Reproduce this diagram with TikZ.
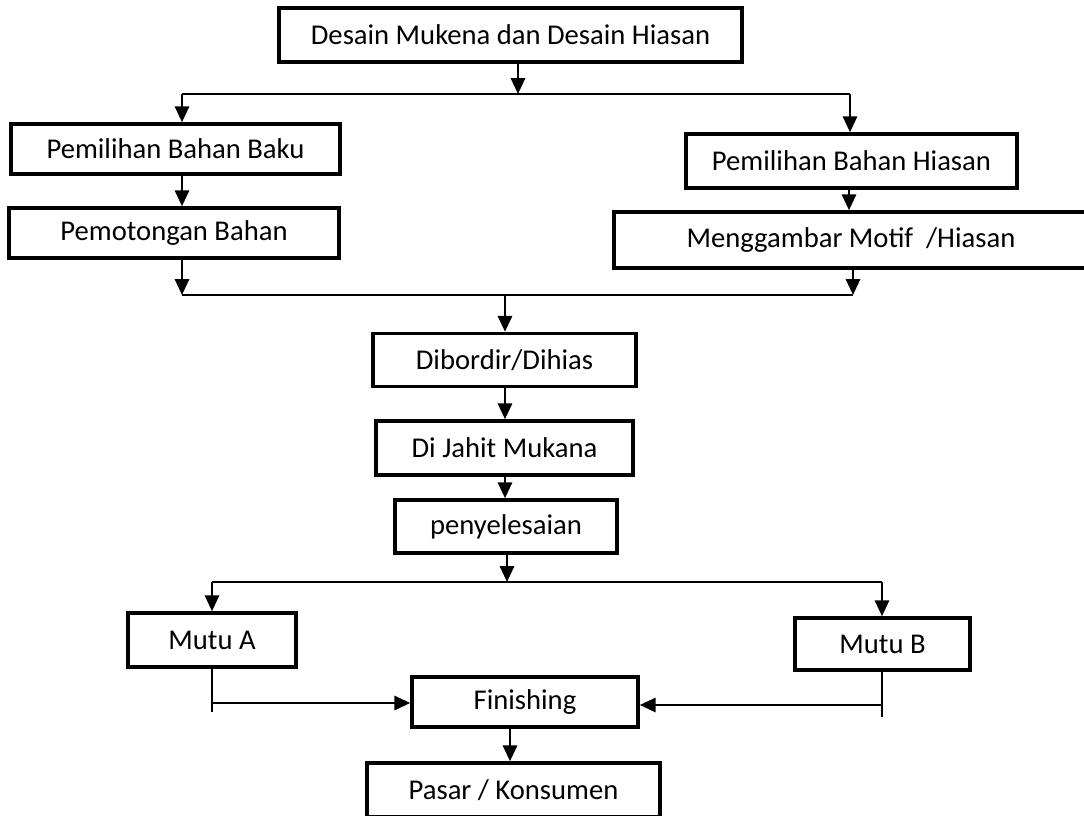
\documentclass[tikz,border=0pt]{standalone}
\usepackage{fontspec}
\setmainfont{Carlito}
\usetikzlibrary{arrows.meta}

\begin{document}
\begin{tikzpicture}[x=0.02cm,y=-0.02cm,
  box/.style={draw,line width=2pt,inner sep=0pt,font=\fontsize{16.3}{18}\selectfont},
  arr/.style={line width=1.5pt,-{Triangle[width=8pt,length=9pt]}},
  ln/.style={line width=1.5pt}]
\useasboundingbox (0,0) rectangle (1084,815);
% Process boxes
\node[box,minimum width=9.26cm,minimum height=1.08cm] (desain) at (510.5,35) {Desain Mukena dan Desain Hiasan};
\node[box,minimum width=6.58cm,minimum height=1.0cm] (baku) at (175.5,149) {Pemilihan Bahan Baku};
\node[box,minimum width=6.6cm,minimum height=1.0cm] (potong) at (174,233) {Pemotongan Bahan};
\node[box,minimum width=6.62cm,minimum height=1.08cm] (bhias) at (851.5,161) {Pemilihan Bahan Hiasan};
\node[box,minimum width=9.48cm,minimum height=1.12cm] (motif) at (851,240) {Menggambar Motif\ \ /Hiasan};
\node[box,minimum width=5.26cm,minimum height=1.06cm] (bordir) at (504.5,360) {Dibordir/Dihias};
\node[box,minimum width=5.14cm,minimum height=1.08cm] (jahit) at (504.5,448) {Di Jahit Mukana};
\node[box,minimum width=4.44cm,minimum height=1.06cm] (selesai) at (506,526.5) {penyelesaian};
\node[box,minimum width=3.36cm,minimum height=1.08cm] (mutua) at (212,640) {Mutu A};
\node[box,minimum width=3.5cm,minimum height=1.04cm] (mutub) at (882.5,644) {Mutu B};
\node[box,minimum width=4.52cm,minimum height=1.0cm] (finish) at (525,702) {Finishing};
\node[box,minimum width=5.86cm,minimum height=1.08cm] (pasar) at (513.5,790) {Pasar / Konsumen};
% Junctions
\coordinate (s1c) at (518,94);
\coordinate (s1l) at (182,94);
\coordinate (s1r) at (850,94);
\coordinate (m1l) at (182,295);
\coordinate (m1r) at (853,295);
\coordinate (m1c) at (505,295);
\coordinate (s2c) at (507,582);
\coordinate (s2l) at (212,582);
\coordinate (s2r) at (882,582);
\coordinate (ja) at (212,703);
\coordinate (jb) at (882,705);
% Split to both branches
\draw[arr] (desain.south -| s1c) -- (s1c);
\draw[ln] (s1l) -- (s1r);
\draw[arr] (s1l) -- (s1l |- baku.north);
\draw[arr] (s1r) -- (s1r |- bhias.north);
\draw[arr] (s1l |- baku.south) -- (s1l |- potong.north);
\draw[arr] (bhias.south -| 849,0) -- (motif.north -| 849,0);
% Merge
\draw[arr] (potong.south -| m1l) -- (m1l);
\draw[arr] (motif.south -| m1r) -- (m1r);
\draw[ln] (m1l) -- (m1r);
\draw[arr] (m1c) -- (bordir.north -| m1c);
\draw[arr] (bordir.south -| m1c) -- (jahit.north -| m1c);
\draw[arr] (jahit.south -| m1c) -- (selesai.north -| m1c);
% Quality split
\draw[arr] (selesai.south -| s2c) -- (s2c);
\draw[ln] (s2l) -- (s2r);
\draw[arr] (s2l) -- (mutua.north -| s2l);
\draw[arr] (s2r) -- (mutub.north -| s2r);
\draw[ln] (mutua.south -| s2l) -- ++(0,43);
\draw[ln] (mutub.south -| s2r) -- ++(0,45);
\draw[arr] (ja) -- (ja -| finish.west);
\draw[arr] (jb) -- (jb -| finish.east);
\draw[arr] (finish.south -| 510,0) -- (pasar.north -| 510,0);
\end{tikzpicture}
\end{document}
